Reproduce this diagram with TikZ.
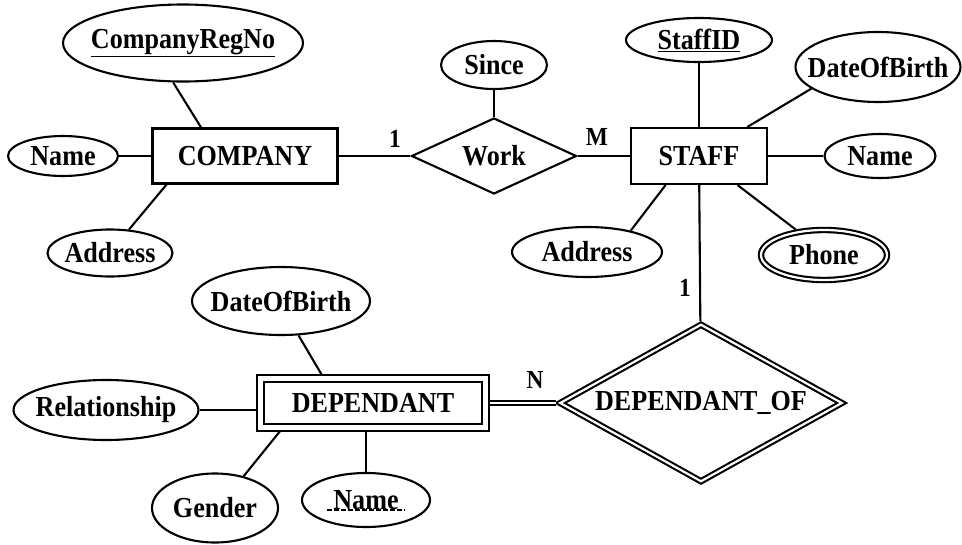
\documentclass[tikz,border=0pt]{standalone}
\usepackage{fontspec}
\setmainfont{Liberation Serif}[FakeStretch=0.9]
\usetikzlibrary{shapes.geometric}

\begin{document}
\begin{tikzpicture}[x=1pt, y=-1pt, line width=2.1pt,
    every node/.style={font=\fontsize{29}{32}\selectfont\bfseries},
    ent/.style={rectangle, draw, inner sep=0pt},
    att/.style={ellipse, draw, inner xsep=-14pt, inner ysep=0pt},
    relship/.style={diamond, draw, inner sep=0pt, aspect=2},
    weak/.style={double, double distance=2.2pt, outer sep=3pt},
    card/.style={font=\fontsize{26}{28}\selectfont\bfseries}]
    \useasboundingbox (0,0) rectangle (962,544);

    % Draw entities
    \node[ent, minimum width=185, minimum height=55] (company) at (245,156) {COMPANY};
    \node[ent, minimum width=136, minimum height=56] (staff) at (699,156) {STAFF};
    \node[ent, double, double distance=4.5pt, outer sep=4pt, minimum width=225, minimum height=49] (dep) at (373,403) {DEPENDANT};

    % Draw relationships
    \node[relship, minimum width=165, minimum height=76] (work) at (494,156) {Work};
    \node[relship, weak, minimum width=284, minimum height=159] (depof) at (701,403) {DEPENDANT\_OF};

    % Draw attributes of COMPANY
    \node[att, minimum width=240, minimum height=77] (regno) at (183,43) {\underline{CompanyRegNo}};
    \node[att, minimum width=110, minimum height=40] (nameC) at (63,156) {Name};
    \node[att, minimum width=125, minimum height=47] (addrC) at (110,253) {Address};

    % Draw attributes of Work and STAFF
    \node[att, minimum width=106, minimum height=48] (since) at (494,65) {Since};
    \node[att, minimum width=146, minimum height=44] (staffid) at (699,40) {\underline{StaffID}};
    \node[att, minimum width=165, minimum height=70] (dobS) at (878,67) {DateOfBirth};
    \node[att, minimum width=111, minimum height=44] (nameS) at (880,156) {Name};
    \node[att, minimum width=150, minimum height=50] (addrS) at (587,252) {Address};
    \node[att, weak, minimum width=126, minimum height=50] (phone) at (824,255) {Phone};

    % Draw attributes of DEPENDANT
    \node[att, minimum width=178, minimum height=68] (dobD) at (281,301) {DateOfBirth};
    \node[att, minimum width=185, minimum height=60] (rel) at (106,410) {Relationship};
    \node[att, minimum width=126, minimum height=69] (gender) at (215,508) {Gender};
    \node[att, minimum width=128, minimum height=54] (nameD) at (366,500) {Name};
    \draw[line width=1.4pt, dash pattern=on 4.5pt off 2.5pt]
        ([xshift=-39pt, yshift=-10pt]nameD.center) -- ([xshift=39pt, yshift=-10pt]nameD.center);

    % Draw cardinalities
    \node[card] (c1) at (395,139) {1};
    \node[card] (cM) at (597,137) {M};
    \node[card] (c1b) at (685,288) {1};
    \node[card] (cN) at (535,380) {N};

    % Draw edges
    \draw (regno.-104) -- (company.147);
    \draw (nameC) -- (company);
    \draw (addrC.51) -- (company.200);
    \draw (company) -- (work);
    \draw (work) -- (staff);
    \draw (since) -- (work);
    \draw (staffid) -- (staff);
    \draw (dobS.198) -- (staff.31);
    \draw (staff) -- (nameS);
    \draw (addrS.26) -- (staff.221);
    \draw (phone.138) -- (staff.-37);
    \draw (staff) -- (depof);
    \draw[double, double distance=2.2pt] (dep) -- (depof);
    \draw (dobD.-63) -- (dep.151);
    \draw (rel) -- (rel -| dep.west);
    \draw (gender.48) -- (dep.197);
    \draw (nameD) -- (nameD |- dep.south);
\end{tikzpicture}
\end{document}
